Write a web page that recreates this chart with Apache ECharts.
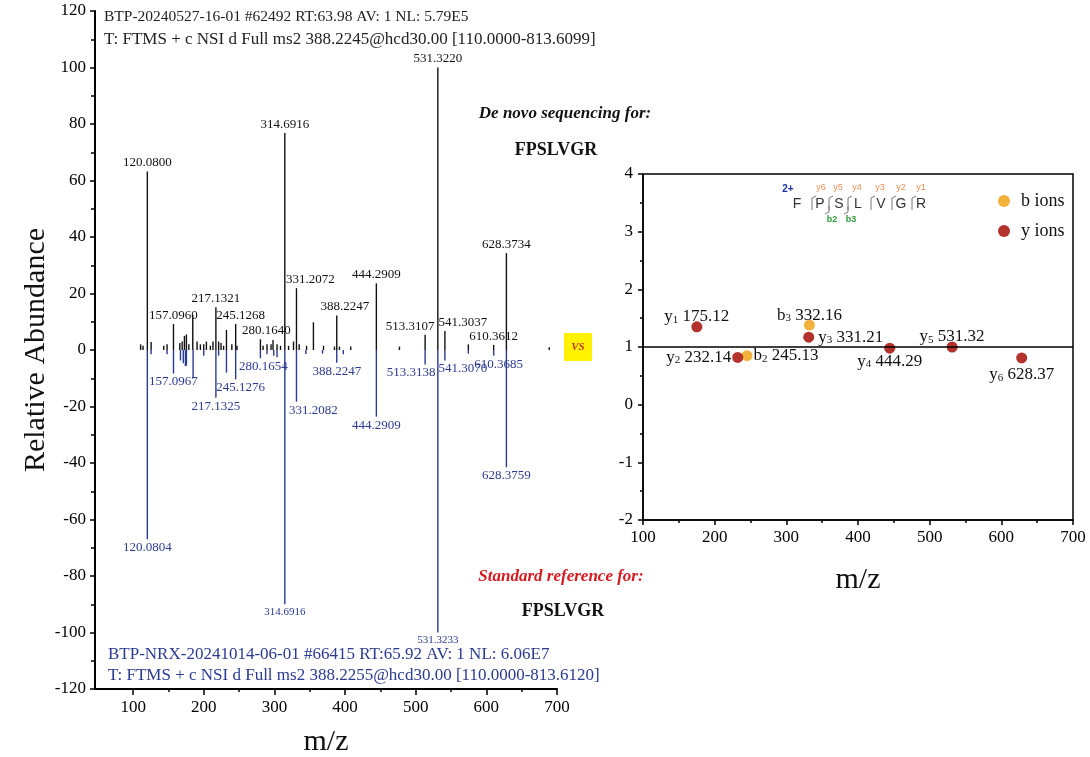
<!DOCTYPE html>
<html>
<head>
<meta charset="utf-8">
<script src="https://cdn.jsdelivr.net/npm/echarts@6/dist/echarts.min.js"></script>
<style>
html,body{margin:0;padding:0;background:#fff}
#main{width:1090px;height:757px}
</style>
</head>
<body>
<div id="main"></div>
<script>
// query spectrum (top, black)
var topMz = [110.6, 114, 120.08, 125.4, 143.3, 148, 157.096, 166, 169.4, 172.6, 175.4, 178.8, 184.4, 190.5, 195.2, 199.9,
    203.7, 209.3, 213, 217.1321, 221, 224.4, 228, 232.1, 239.7, 245.1268, 247, 280.164, 283.9, 289.5, 295.2, 298, 303.7,
    308.6, 314.6916, 320, 327, 331.2072, 335, 345.5, 355.2, 369.5, 385, 388.2247, 392, 408, 444.2909, 477, 513.3107,
    531.322, 541.3037, 574.5, 610.3612, 628.3734, 689];
var topInt = [2, 1.5, 63.2, 2.8, 1.5, 2, 9.2, 2.5, 3, 5, 5.5, 2, 12.4, 3, 2, 2,
    3, 1.5, 3, 15.1, 3, 2.5, 1.5, 7.1, 2, 9.2, 1.5, 3.8, 1.5, 2, 2, 3.5, 2,
    1.5, 76.8, 1.5, 3, 21.9, 2, 1.5, 9.8, 1.5, 1.2, 12.2, 1.2, 1.2, 23.6, 1.2, 5.4,
    100, 6.7, 2, 1.8, 34.3, 1];
var topLabels = ['', '', '120.0800', '', '', '', '157.0960', '', '', '', '', '', '', '', '', '',
    '', '', '', '217.1321', '', '', '', '', '', '245.1268', '', '280.1640', '', '', '', '', '',
    '', '314.6916', '', '', '331.2072', '', '', '', '', '', '388.2247', '', '', '444.2909', '', '513.3107',
    '531.3220', '541.3037', '', '610.3612', '628.3734', ''];

// standard reference spectrum (bottom, blue, mirrored)
var bottomMz = [120.0804, 125.4, 148, 157.0967, 167, 171, 174, 175.4, 184.9, 199.9, 217.1325, 221, 232.1, 245.1276,
    280.1654, 289.5, 299, 303.7, 314.6916, 331.2082, 344.5, 368.1, 388.2247, 397.5, 444.2909, 513.3138, 531.3233,
    541.307, 574.5, 610.3685, 628.3759];
var bottomInt = [-67, -1.5, -1.5, -8.3, -3.7, -4.7, -5.7, -5.5, -10, -2, -16.9, -2, -8, -10.4,
    -2.9, -1.5, -2, -2.6, -90, -18.3, -1.4, -1.3, -4.5, -1.5, -23.6, -5.1, -100,
    -3.7, -1.3, -2, -41.5];
var bottomLabels = ['120.0804', '', '', '157.0967', '', '', '', '', '', '', '217.1325', '', '', '245.1276',
    '280.1654', '', '', '', '314.6916', '331.2082', '', '', '388.2247', '', '444.2909', '513.3138', '531.3233',
    '541.3070', '', '610.3685', '628.3759'];

// de novo fragment ions (inset)
var bIonNames = ['b2', 'b3'];
var bIonMz = [245.13, 332.16];
var bIonDev = [0.85, 1.38];
var yIonNames = ['y1', 'y2', 'y3', 'y4', 'y5', 'y6'];
var yIonMz = [175.12, 232.14, 331.21, 444.29, 531.32, 628.37];
var yIonDev = [1.35, 0.82, 1.17, 0.98, 1.0, 0.81];

var mzTicks = [100, 200, 300, 400, 500, 600, 700];
var mzMinorTicks = [150, 250, 350, 450, 550, 650];

var SERIF = '"Liberation Serif", "Times New Roman", serif';
var BLUE = '#2b3a92';
var ORANGE = '#f3b33b';
var RED = '#b3322b';

// small horizontal nudges where labels were pushed apart in the original
var topShift = {'245.1268': 5, '280.1640': 6, '331.2072': 14, '388.2247': 8, '513.3107': -15, '541.3037': 18};
var bottomShift = {'280.1654': 3, '245.1276': 5, '331.2082': 17, '513.3138': -14, '541.3070': 18, '610.3685': 5};
var smallBottom = {'314.6916': 1, '531.3233': 1};
var ionLabelCfg = {
    b2: {position: 'right'},
    b3: {position: 'top', offset: [0, 5]},
    y1: {position: 'top', offset: [0, 5]},
    y2: {position: 'left'},
    y3: {position: 'right', distance: 4},
    y4: {position: 'bottom', offset: [0, -2]},
    y5: {position: 'top', offset: [0, 5]},
    y6: {position: 'bottom', offset: [0, 2]}
};

function pairs(a, b) {
    var out = [];
    for (var i = 0; i < a.length; i++) out.push([a[i], b[i]]);
    return out;
}

function stick(color, labels, shift, small) {
    return function (params, api) {
        var x = api.value(0), v = api.value(1);
        var p0 = api.coord([x, 0]);
        var p1 = api.coord([x, v]);
        var kids = [{
            type: 'line',
            shape: {x1: p0[0], y1: p0[1], x2: p1[0], y2: p1[1]},
            style: {stroke: color, lineWidth: 1.4}
        }];
        var lab = labels[params.dataIndex];
        if (lab) {
            kids.push({
                type: 'text',
                x: p1[0] + (shift[lab] || 0),
                y: v > 0 ? p1[1] - 2 : p1[1] + 2,
                style: {
                    text: lab,
                    fill: color,
                    font: (small && small[lab] ? 11 : 13) + 'px ' + SERIF,
                    align: 'center',
                    verticalAlign: v > 0 ? 'bottom' : 'top'
                }
            });
        }
        return {type: 'group', children: kids};
    };
}

function ionData(names, mz, dev) {
    return names.map(function (n, i) {
        return {name: n, value: [mz[i], dev[i]], label: ionLabelCfg[n]};
    });
}

function ionLabel(p) {
    var n = p.name;
    return '{m|' + n.charAt(0) + '}{s|' + n.slice(1) + '}{m| ' + p.value[0].toFixed(2) + '}';
}

var ionRich = {
    m: {fontSize: 17, fontFamily: SERIF, color: '#111'},
    s: {fontSize: 11, fontFamily: SERIF, color: '#111', verticalAlign: 'bottom', padding: [6, 0, 0, 0]}
};

var chart = echarts.init(document.getElementById('main'));

var axisText = {color: '#000', fontSize: 17, fontFamily: SERIF};

var option = {
    backgroundColor: '#fff',
    animation: false,
    grid: [
        {left: 95, top: 11, width: 462, height: 678, outerBoundsMode: 'none', containLabel: false},
        {left: 643, top: 174, width: 430, height: 346, outerBoundsMode: 'none', containLabel: false,
            show: true, borderColor: '#000', borderWidth: 1.5}
    ],
    legend: {
        data: ['b ions', 'y ions'],
        orient: 'vertical',
        left: 993,
        top: 187,
        itemWidth: 12,
        itemHeight: 12,
        itemGap: 12,
        icon: 'circle',
        textStyle: {fontSize: 18, fontFamily: SERIF, color: '#111', padding: [0, 0, 0, 6]}
    },
    xAxis: [
        {
            type: 'value', gridIndex: 0, min: 46, max: 700, position: 'bottom',
            name: 'm/z', nameLocation: 'middle', nameGap: 38,
            nameTextStyle: {fontSize: 30, fontFamily: SERIF, color: '#111'},
            axisLine: {onZero: false, lineStyle: {color: '#000', width: 2}},
            axisTick: {customValues: mzTicks, length: 6, lineStyle: {color: '#000', width: 1.5}},
            axisLabel: Object.assign({customValues: mzTicks, margin: 10}, axisText),
            splitLine: {show: false}
        },
        {
            type: 'value', gridIndex: 0, min: 46, max: 700, position: 'bottom',
            axisLine: {show: false, onZero: false},
            axisTick: {customValues: mzMinorTicks, length: 3, lineStyle: {color: '#000', width: 1.5}},
            axisLabel: {show: false},
            splitLine: {show: false}
        },
        {
            type: 'value', gridIndex: 1, min: 100, max: 700, interval: 100,
            name: 'm/z', nameLocation: 'middle', nameGap: 45,
            nameTextStyle: {fontSize: 30, fontFamily: SERIF, color: '#111'},
            axisLine: {onZero: false, lineStyle: {color: '#000', width: 1.5}},
            axisTick: {length: 5, lineStyle: {color: '#000', width: 1.5}},
            minorTick: {show: true, splitNumber: 2, length: 3, lineStyle: {color: '#000', width: 1.5}},
            axisLabel: Object.assign({margin: 9}, axisText),
            splitLine: {show: false}
        }
    ],
    yAxis: [
        {
            type: 'value', gridIndex: 0, min: -120, max: 120, interval: 20,
            name: 'Relative Abundance', nameLocation: 'middle', nameGap: 44, nameRotate: 90,
            nameTextStyle: {fontSize: 30, fontFamily: SERIF, color: '#111'},
            axisLine: {show: true, onZero: false, lineStyle: {color: '#000', width: 2}},
            axisTick: {show: true, length: 5, lineStyle: {color: '#000', width: 1.5}},
            minorTick: {show: true, splitNumber: 2, length: 4, lineStyle: {color: '#000', width: 1.5}},
            axisLabel: Object.assign({margin: 9}, axisText),
            splitLine: {show: false}
        },
        {
            type: 'value', gridIndex: 1, min: -2, max: 4, interval: 1,
            axisLine: {show: true, onZero: false, lineStyle: {color: '#000', width: 1.5}},
            axisTick: {show: true, length: 5, lineStyle: {color: '#000', width: 1.5}},
            minorTick: {show: true, splitNumber: 2, length: 3, lineStyle: {color: '#000', width: 1.5}},
            axisLabel: Object.assign({margin: 10}, axisText),
            splitLine: {show: false}
        }
    ],
    series: [
        {
            name: 'query', type: 'custom', xAxisIndex: 0, yAxisIndex: 0,
            renderItem: stick('#111', topLabels, topShift, null),
            data: pairs(topMz, topInt), z: 3
        },
        {
            name: 'reference', type: 'custom', xAxisIndex: 0, yAxisIndex: 0,
            renderItem: stick(BLUE, bottomLabels, bottomShift, smallBottom),
            data: pairs(bottomMz, bottomInt), z: 2
        },
        {
            name: 'b ions', type: 'scatter', xAxisIndex: 2, yAxisIndex: 1,
            symbolSize: 11, itemStyle: {color: ORANGE, opacity: 1},
            label: {show: true, formatter: ionLabel, rich: ionRich, distance: 1},
            data: ionData(bIonNames, bIonMz, bIonDev), z: 4
        },
        {
            name: 'y ions', type: 'scatter', xAxisIndex: 2, yAxisIndex: 1,
            symbolSize: 11, itemStyle: {color: RED, opacity: 1},
            label: {show: true, formatter: ionLabel, rich: ionRich, distance: 1},
            data: ionData(yIonNames, yIonMz, yIonDev), z: 4,
            markLine: {
                silent: true, symbol: 'none', label: {show: false},
                lineStyle: {color: '#000', width: 1.5, type: 'solid'},
                data: [{yAxis: 1}]
            }
        }
    ],
    graphic: [
        // spectrum headers
        {type: 'text', left: 104, top: 9, style: {text: 'BTP-20240527-16-01 #62492 RT:63.98 AV: 1 NL: 5.79E5', font: '15.5px ' + SERIF, fill: '#222'}},
        {type: 'text', left: 104, top: 31, style: {text: 'T: FTMS + c NSI d Full ms2 388.2245@hcd30.00 [110.0000-813.6099]', font: '17px ' + SERIF, fill: '#222'}},
        {type: 'text', left: 108, top: 646, style: {text: 'BTP-NRX-20241014-06-01 #66415 RT:65.92 AV: 1 NL: 6.06E7', font: '17px ' + SERIF, fill: BLUE}},
        {type: 'text', left: 108, top: 667, style: {text: 'T: FTMS + c NSI d Full ms2 388.2255@hcd30.00 [110.0000-813.6120]', font: '17px ' + SERIF, fill: BLUE}},
        // side notes
        {type: 'text', x: 565, y: 114, style: {text: 'De novo sequencing for:', font: 'italic bold 17px ' + SERIF, fill: '#111', align: 'center', verticalAlign: 'middle'}},
        {type: 'text', x: 556, y: 150, style: {text: 'FPSLVGR', font: 'bold 18px ' + SERIF, fill: '#111', align: 'center', verticalAlign: 'middle'}},
        {type: 'text', x: 561, y: 577, style: {text: 'Standard reference for:', font: 'italic bold 17px ' + SERIF, fill: '#d7191f', align: 'center', verticalAlign: 'middle'}},
        {type: 'text', x: 563, y: 611, style: {text: 'FPSLVGR', font: 'bold 18px ' + SERIF, fill: '#111', align: 'center', verticalAlign: 'middle'}},
        // VS badge
        {type: 'rect', shape: {x: 564, y: 333, width: 28, height: 28}, style: {fill: '#fff200'}},
        {type: 'text', x: 578, y: 347, style: {text: 'VS', font: 'italic bold 11px ' + SERIF, fill: '#c0392b', align: 'center', verticalAlign: 'middle'}},
        // peptide fragmentation map
        {type: 'text', x: 788, y: 189, style: {text: '2+', font: 'bold 10px sans-serif', fill: '#1c2fa8', align: 'center', verticalAlign: 'middle'}},
        {type: 'group', children: (function () {
            var res = ['F', 'P', 'S', 'L', 'V', 'G', 'R'];
            var rx = [797, 820, 839, 858, 881, 901, 921];
            var cx = [812, 829, 848, 871, 892, 912];
            var yl = ['y6', 'y5', 'y4', 'y3', 'y2', 'y1'];
            var els = [];
            res.forEach(function (r, i) {
                els.push({type: 'text', x: rx[i], y: 204, style: {text: r, font: '14px sans-serif', fill: '#333', align: 'center', verticalAlign: 'middle'}});
            });
            cx.forEach(function (x, i) {
                els.push({type: 'polyline', shape: {points: [[x + 4, 196], [x, 198], [x, 210]]}, style: {stroke: '#777', lineWidth: 1, fill: null}});
                els.push({type: 'text', x: x + 9, y: 188, style: {text: yl[i], font: '9px sans-serif', fill: '#e8915a', align: 'center', verticalAlign: 'middle'}});
            });
            [[829, 'b2'], [848, 'b3']].forEach(function (b) {
                els.push({type: 'polyline', shape: {points: [[b[0], 206], [b[0], 212], [b[0] - 4, 214]]}, style: {stroke: '#777', lineWidth: 1, fill: null}});
                els.push({type: 'text', x: b[0] + 3, y: 220, style: {text: b[1], font: 'bold 9px sans-serif', fill: '#2e9a3c', align: 'center', verticalAlign: 'middle'}});
            });
            return els;
        })()}
    ]
};

chart.setOption(option);
window.addEventListener('resize', chart.resize);
</script>
</body>
</html>
